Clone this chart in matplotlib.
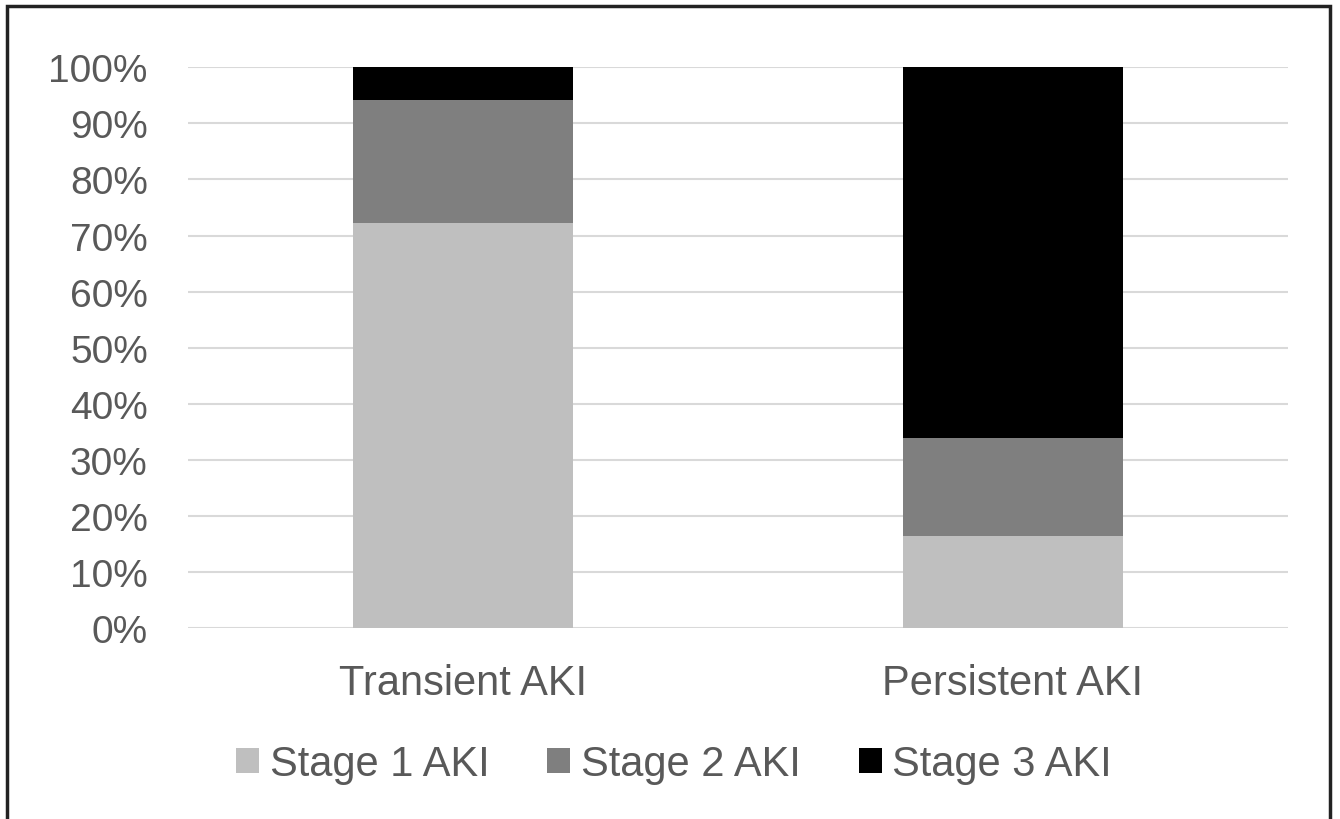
import matplotlib
matplotlib.use("Agg")
import matplotlib.pyplot as plt
from matplotlib.patches import Rectangle, Patch
from matplotlib.ticker import PercentFormatter

plt.rcParams['font.family'] = ['Liberation Sans', 'DejaVu Sans']

# Share of each AKI stage within the two groups (%)
groups = ["Transient AKI", "Persistent AKI"]
stages = ["Stage 1 AKI", "Stage 2 AKI", "Stage 3 AKI"]
stage1 = [72.2, 16.4]
stage2 = [22.0, 17.5]
stage3 = [5.8, 66.1]
colors = ["#bfbfbf", "#7f7f7f", "#000000"]
text_color = "#595959"

fig = plt.figure(figsize=(13.4, 8.2), dpi=100)
ax = fig.add_axes([188 / 1340, 1 - 629.3 / 820, 1100 / 1340, 561 / 820])

x = range(len(groups))
bottom = [0.0, 0.0]
for vals, col in zip([stage1, stage2, stage3], colors):
    ax.bar(x, vals, width=0.4, bottom=bottom, color=col, linewidth=0, zorder=3)
    bottom = [b + v for b, v in zip(bottom, vals)]

ax.set_xlim(-0.5, 1.5)
ax.set_ylim(0, 100)
ax.set_yticks(range(0, 101, 10))
ax.yaxis.set_major_formatter(PercentFormatter(decimals=0))
ax.set_xticks(list(x))
ax.set_xticklabels(groups)
ax.grid(axis='y', color="#d9d9d9", linewidth=1.5, zorder=0)
for s in ax.spines.values():
    s.set_visible(False)
ax.tick_params(axis='y', length=0, pad=29, labelsize=28, labelcolor=text_color)
ax.tick_params(axis='x', length=0, pad=25, labelsize=30, labelcolor=text_color)

handles = [Patch(facecolor=c, edgecolor='none') for c in colors]
fig.legend(handles, stages, loc='center', bbox_to_anchor=(674 / 1340, 1 - 765 / 820),
           ncol=3, frameon=False, fontsize=30, labelcolor=text_color,
           handlelength=0.55, handleheight=0.55, handletextpad=0.25,
           columnspacing=1.4)

# outer frame around the whole figure
fig.patches.append(Rectangle((7 / 1340, -0.01), 1323 / 1340, 1 - 7 / 820 + 0.01,
                             transform=fig.transFigure, fill=False,
                             edgecolor="#222222", linewidth=2.5))

fig.savefig("out.png", dpi=100, facecolor="white")
